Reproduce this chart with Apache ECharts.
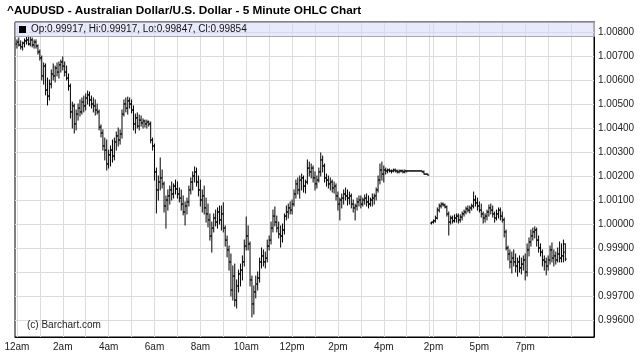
<!DOCTYPE html>
<html>
<head>
<meta charset="utf-8">
<script src="https://cdn.jsdelivr.net/npm/echarts@6/dist/echarts.min.js"></script>
<style>html,body{margin:0;padding:0;background:#fff;}#chart{width:641px;height:357px;}</style>
</head>
<body>
<div id="chart"></div>
<script>
// ---- DATA (5-minute bars; index = bar slot on the time axis) ----
const titleText = '^AUDUSD - Australian Dollar/U.S. Dollar - 5 Minute OHLC Chart';
const legendText = 'Op:0.99917, Hi:0.99917, Lo:0.99847, Cl:0.99854';
const lastClose = 0.99854;
const barSlots = 304;
const tickIndex = [1, 25, 49, 73, 97, 121, 145, 169, 193, 219, 243, 267];
const tickLabels = ['12am', '2am', '4am', '6am', '8am', '10am', '12pm', '2pm', '4pm', '2pm', '5pm', '7pm'];
const yTicks = [0.996, 0.997, 0.998, 0.999, 1.000, 1.001, 1.002, 1.003, 1.004, 1.005, 1.006, 1.007, 1.008];

const opens = [null,
1.0075,1.00758,1.00746,1.00738,1.00754,1.00763,1.00767,1.0075,1.00767,1.00746,
1.00758,1.00742,1.00717,1.00692,1.00617,1.00658,1.00558,1.00533,1.00583,1.00625,
1.00617,1.0065,1.00633,1.00663,1.00675,1.00658,1.00633,1.00608,1.00575,1.00467,
1.00492,1.00417,1.00458,1.00483,1.00467,1.00508,1.00492,1.00525,1.00538,1.00517,
1.005,1.00492,1.00475,1.00467,1.00404,1.00379,1.00325,1.00308,1.0025,1.00288,
1.00308,1.00283,1.00342,1.00367,1.0035,1.00375,1.00458,1.005,1.00483,1.00513,
1.005,1.00475,1.00417,1.00442,1.00408,1.00433,1.00421,1.00429,1.00417,1.00425,
1.00417,1.0035,1.00325,1.00217,1.00142,1.00175,1.00192,1.00167,1.00075,1.001,
1.00117,1.00142,1.00125,1.00158,1.00146,1.00125,1.00108,1.00083,1.0005,1.00075,
1.00092,1.00142,1.00175,1.002,1.00217,1.00175,1.00142,1.001,1.00117,1.00067,
1.00042,1.00017,0.9995,0.99983,1.00025,1.00008,1.0005,1.00017,1.00042,0.99983,
0.99933,0.99892,0.99842,0.99725,0.99783,0.99683,0.99742,0.99792,0.99808,0.99842,
0.99908,0.9995,0.99917,0.99767,0.99667,0.99717,0.9975,0.99775,0.99842,0.99867,
0.99842,0.99858,0.99908,0.99933,0.99983,1.00033,1.00008,0.99983,0.99958,0.9995,
0.99975,1.00033,1.0005,1.00067,1.00058,1.00083,1.00125,1.00167,1.00142,1.00183,
1.00192,1.00158,1.00175,1.00233,1.00217,1.00233,1.00192,1.00167,1.00183,1.00217,
1.00267,1.00242,1.00192,1.00183,1.00167,1.00175,1.0015,1.00158,1.00117,1.00083,
1.001,1.00108,1.00125,1.00117,1.00108,1.00117,1.00083,1.00067,1.00075,1.00092,
1.001,1.00083,1.001,1.00108,1.00092,1.00083,1.001,1.00108,1.00117,1.00142,
1.00183,1.00225,1.00208,1.00225,1.00221,1.00225,1.00221,1.00221,1.00225,1.00221,
1.00217,1.00221,1.00221,1.00217,1.00221,1.00221,1.00221,1.00221,1.00221,1.00221,
1.00221,1.00221,1.00221,1.00217,1.00208,1.00208,null,
1.00004,1.00008,1.00013,
1.00025,1.00058,1.00075,1.00083,1.00079,1.00071,1.00042,1.00008,1.00025,1.00013,
1.00025,1.00033,1.00017,1.00029,1.00042,1.0005,1.00063,1.00058,1.00067,1.00075,
1.001,1.00088,1.00075,1.00058,1.00042,1.00025,1.00033,1.0005,1.00067,1.00058,
1.00042,1.00025,1.00042,1.00058,1.00033,1.00017,0.99967,0.999,0.99875,0.99842,
0.99858,0.99842,0.99825,0.99842,0.99817,0.99833,0.9985,0.998,0.99892,0.99925,
0.9995,0.99967,0.99975,0.99933,0.999,0.99883,0.9985,0.99842,0.99825,0.9985,
0.99892,0.99858,0.99867,0.9985,0.99875,0.99858,0.99867,0.99917];

const highs = [null,
1.00767,1.00775,1.00763,1.00758,1.00771,1.00779,1.00783,1.00779,1.00775,1.00767,
1.00767,1.00746,1.00725,1.007,1.00671,1.00667,1.00608,1.006,1.00642,1.00667,
1.00658,1.00671,1.00675,1.00683,1.00696,1.00675,1.00658,1.00625,1.00583,1.00508,
1.005,1.00475,1.005,1.00517,1.00525,1.00533,1.00542,1.00554,1.0055,1.00533,
1.00525,1.00517,1.005,1.00475,1.00413,1.00392,1.00358,1.0035,1.00308,1.00325,
1.0035,1.00358,1.00383,1.004,1.00392,1.00475,1.00517,1.00525,1.00529,1.00525,
1.00517,1.00492,1.00458,1.00463,1.00454,1.0045,1.00438,1.00433,1.00433,1.00429,
1.00425,1.00358,1.00333,1.00233,1.002,1.00275,1.00225,1.00175,1.00117,1.00142,
1.00158,1.00175,1.00167,1.00183,1.00175,1.0015,1.00142,1.00117,1.00092,1.00108,
1.00158,1.00192,1.00217,1.00238,1.00233,1.002,1.00183,1.00142,1.00158,1.00108,
1.00083,1.00042,1.00008,1.00042,1.00058,1.00067,1.00075,1.00075,1.00088,0.99992,
0.9995,0.99908,0.99875,0.99825,0.99833,0.99767,0.99808,0.99833,0.99867,0.99933,
1.00029,0.99992,0.99925,0.99783,0.99742,0.99783,0.998,0.99858,0.999,0.99892,
0.99883,0.99933,0.9995,1.00008,1.00058,1.00071,1.00033,1.00008,0.99992,1.0,
1.00042,1.00075,1.00083,1.00092,1.001,1.00142,1.00183,1.00192,1.002,1.00208,
1.002,1.00183,1.00267,1.00258,1.0025,1.00242,1.00217,1.002,1.00233,1.00296,
1.00283,1.0025,1.00208,1.002,1.00192,1.00183,1.00175,1.00167,1.00133,1.00108,
1.00125,1.00142,1.0015,1.00142,1.00133,1.00125,1.001,1.00083,1.00108,1.00117,
1.00117,1.00108,1.00121,1.00125,1.00117,1.00108,1.00125,1.00125,1.0015,1.002,
1.0025,1.00258,1.00242,1.00233,1.00229,1.00229,1.00225,1.00229,1.00229,1.00225,
1.00225,1.00225,1.00225,1.00225,1.00221,1.00221,1.00221,1.00221,1.00221,1.00221,
1.00221,1.00221,1.00221,1.00221,1.00208,1.00208,null,
1.00008,1.00017,1.00033,
1.00067,1.00083,1.00088,1.00088,1.00083,1.00075,1.0005,1.00033,1.00033,1.00038,
1.00042,1.00042,1.00038,1.0005,1.00058,1.00071,1.00075,1.00075,1.00083,1.00133,
1.00117,1.00108,1.00092,1.00083,1.0005,1.00042,1.00058,1.00079,1.00083,1.00075,
1.0005,1.00058,1.00067,1.00067,1.0005,1.00025,0.99975,0.99908,0.99892,0.99883,
0.99892,0.99875,0.99858,0.99867,0.99858,0.99867,0.99875,0.99917,0.99942,0.99975,
0.99983,0.99988,0.99983,0.9995,0.99917,0.99892,0.99867,0.99858,0.99867,0.99908,
0.99921,0.99892,0.99883,0.999,0.99925,0.99917,0.99933,0.99917];

const lows = [null,
1.00733,1.00742,1.00729,1.00725,1.00738,1.0075,1.00746,1.00742,1.00738,1.00733,
1.00733,1.00708,1.00683,1.006,1.00583,1.00538,1.00496,1.00517,1.00567,1.006,
1.00592,1.00617,1.00608,1.00633,1.00642,1.00617,1.006,1.00558,1.00442,1.004,
1.00379,1.00392,1.00433,1.0045,1.00458,1.00467,1.00475,1.005,1.00492,1.00483,
1.00467,1.00454,1.00458,1.00392,1.00363,1.00308,1.00267,1.00225,1.00233,1.00242,
1.00258,1.00267,1.00308,1.00325,1.00333,1.00358,1.0045,1.00467,1.00458,1.00483,
1.00463,1.00392,1.00379,1.004,1.00392,1.00408,1.004,1.00404,1.004,1.00408,
1.00338,1.00308,1.00183,1.00046,1.001,1.00142,1.0015,1.0005,0.99983,1.00058,
1.00083,1.001,1.00108,1.00125,1.00108,1.00092,1.00058,1.00038,0.99996,1.00042,
1.00075,1.00125,1.00142,1.00175,1.00158,1.00117,1.00075,1.0005,1.00042,1.00008,
0.99988,0.99933,0.99883,0.99967,0.99992,0.99983,1.0,0.99975,0.99967,0.99908,
0.99863,0.99808,0.997,0.99683,0.99658,0.9965,0.99717,0.99742,0.99767,0.99825,
0.99892,0.99892,0.99742,0.99613,0.99625,0.99692,0.99725,0.99758,0.99817,0.99825,
0.99817,0.99842,0.99892,0.99917,0.99967,0.99992,0.99967,0.99942,0.99904,0.99925,
0.99958,1.00017,1.00025,1.00042,1.00042,1.00075,1.00108,1.00125,1.00108,1.00142,
1.00133,1.00129,1.00167,1.002,1.00192,1.00175,1.00142,1.0015,1.00175,1.002,
1.00217,1.00175,1.00158,1.0015,1.00142,1.00133,1.00129,1.001,1.00058,1.00017,
1.00067,1.00083,1.001,1.00079,1.00083,1.00067,1.0005,1.00017,1.00058,1.00075,
1.00067,1.00075,1.00083,1.00075,1.00067,1.00075,1.00075,1.00083,1.001,1.00133,
1.00167,1.00183,1.00175,1.00208,1.00213,1.00217,1.00213,1.00217,1.00217,1.00213,
1.00213,1.00217,1.00213,1.00213,1.00217,1.00221,1.00221,1.00221,1.00221,1.00221,
1.00221,1.00221,1.00217,1.00208,1.00208,1.00204,null,
1.0,1.00004,1.00008,
1.00021,1.0005,1.00067,1.00075,1.00067,1.00033,0.99954,1.0,1.00004,1.00008,
1.00008,1.00004,1.00008,1.00017,1.00033,1.00042,1.0005,1.00046,1.00058,1.00067,
1.00075,1.00058,1.0005,1.00029,1.00004,1.00008,1.00017,1.00033,1.00042,1.00029,
1.00008,1.00017,1.00025,1.00017,1.00008,0.99946,0.99892,0.9985,0.99817,0.99796,
0.99825,0.998,0.99783,0.998,0.99792,0.99808,0.99767,0.99783,0.99867,0.99908,
0.99933,0.99942,0.99908,0.99883,0.99867,0.99825,0.99808,0.99788,0.99808,0.99833,
0.99842,0.99825,0.99833,0.99842,0.99842,0.99842,0.99842,0.99847];

const closes = [null,
1.00758,1.00746,1.00738,1.00754,1.00763,1.00767,1.0075,1.00767,1.00746,1.00758,
1.00742,1.00717,1.00692,1.00617,1.00658,1.00558,1.00533,1.00583,1.00625,1.00617,
1.0065,1.00633,1.00663,1.00675,1.00658,1.00633,1.00608,1.00575,1.00467,1.00492,
1.00417,1.00458,1.00483,1.00467,1.00508,1.00492,1.00525,1.00538,1.00517,1.005,
1.00492,1.00475,1.00467,1.00404,1.00379,1.00325,1.00308,1.0025,1.00288,1.00308,
1.00283,1.00342,1.00367,1.0035,1.00375,1.00458,1.005,1.00483,1.00513,1.005,
1.00475,1.00417,1.00442,1.00408,1.00433,1.00421,1.00429,1.00417,1.00425,1.00417,
1.0035,1.00325,1.00217,1.00142,1.00175,1.00192,1.00167,1.00075,1.001,1.00117,
1.00142,1.00125,1.00158,1.00146,1.00125,1.00108,1.00083,1.0005,1.00075,1.00092,
1.00142,1.00175,1.002,1.00217,1.00175,1.00142,1.001,1.00117,1.00067,1.00042,
1.00017,0.9995,0.99983,1.00025,1.00008,1.0005,1.00017,1.00042,0.99983,0.99933,
0.99892,0.99842,0.99725,0.99783,0.99683,0.99742,0.99792,0.99808,0.99842,0.99908,
0.9995,0.99917,0.99767,0.99667,0.99717,0.9975,0.99775,0.99842,0.99867,0.99842,
0.99858,0.99908,0.99933,0.99983,1.00033,1.00008,0.99983,0.99958,0.9995,0.99975,
1.00033,1.0005,1.00067,1.00058,1.00083,1.00125,1.00167,1.00142,1.00183,1.00192,
1.00158,1.00175,1.00233,1.00217,1.00233,1.00192,1.00167,1.00183,1.00217,1.00267,
1.00242,1.00192,1.00183,1.00167,1.00175,1.0015,1.00158,1.00117,1.00083,1.001,
1.00108,1.00125,1.00117,1.00108,1.00117,1.00083,1.00067,1.00075,1.00092,1.001,
1.00083,1.001,1.00108,1.00092,1.00083,1.001,1.00108,1.00117,1.00142,1.00183,
1.00225,1.00208,1.00225,1.00221,1.00225,1.00221,1.00221,1.00225,1.00221,1.00217,
1.00221,1.00221,1.00217,1.00221,1.00221,1.00221,1.00221,1.00221,1.00221,1.00221,
1.00221,1.00221,1.00217,1.00208,1.00208,1.00204,null,
1.00008,1.00013,1.00025,
1.00058,1.00075,1.00083,1.00079,1.00071,1.00042,1.00008,1.00025,1.00013,1.00025,
1.00033,1.00017,1.00029,1.00042,1.0005,1.00063,1.00058,1.00067,1.00075,1.001,
1.00088,1.00075,1.00058,1.00042,1.00025,1.00033,1.0005,1.00067,1.00058,1.00042,
1.00025,1.00042,1.00058,1.00033,1.00017,0.99967,0.999,0.99875,0.99842,0.99858,
0.99842,0.99825,0.99842,0.99817,0.99833,0.9985,0.998,0.99892,0.99925,0.9995,
0.99967,0.99975,0.99933,0.999,0.99883,0.9985,0.99842,0.99825,0.9985,0.99892,
0.99858,0.99867,0.9985,0.99875,0.99858,0.99867,0.99883,0.99854];

// ---- BUILD ----
const FONT = 'Liberation Sans, Arial, sans-serif';
const slots = Array.from({length: barSlots}, (_, i) => String(i));
const ohlc = [];
for (let i = 0; i < opens.length; i++) {
  if (opens[i] == null) continue;
  ohlc.push([i, opens[i], highs[i], lows[i], closes[i]]);
}
function isHourLine(i) {
  if (i <= 217) return (i - 1) % 12 === 0;
  return i >= 219 && (i - 219) % 12 === 0;
}
const lensOk = opens.length === highs.length && highs.length === lows.length && lows.length === closes.length;

const chart = echarts.init(document.getElementById('chart'), null, {renderer: 'canvas'});
chart.setOption({
  animation: false,
  backgroundColor: '#fff',
  title: {
    text: lensOk ? titleText : 'LENGTH MISMATCH ' + [opens.length, highs.length, lows.length, closes.length].join(','),
    left: 7, top: 5, padding: 0,
    textStyle: {fontFamily: FONT, fontSize: 11.8, fontWeight: 'bold', color: '#000'}
  },
  grid: {left: 15, right: 47, top: 22, bottom: 20, show: true, borderColor: '#000', borderWidth: 1, backgroundColor: 'transparent'},
  xAxis: {
    type: 'category', data: slots, boundaryGap: false,
    axisLine: {show: true, lineStyle: {color: '#000', width: 1}},
    axisTick: {show: false},
    axisLabel: {
      interval: (idx) => tickIndex.indexOf(idx) >= 0,
      formatter: (val, idx) => tickLabels[tickIndex.indexOf(Number(val))] || '',
      fontFamily: FONT, fontSize: 10, color: '#222', margin: 5
    },
    splitLine: {show: true, interval: (idx) => isHourLine(idx), lineStyle: {color: '#dcdcdc', width: 1}}
  },
  yAxis: {
    type: 'value', position: 'right', min: 0.995292, max: 1.008417, scale: true,
    axisLine: {show: true, lineStyle: {color: '#000', width: 1}},
    axisTick: {show: true, inside: true, length: 4, customValues: yTicks, lineStyle: {color: '#000'}},
    axisLabel: {customValues: yTicks, formatter: (v) => v.toFixed(5), fontFamily: FONT, fontSize: 10, color: '#222', margin: 4},
    splitLine: {show: false}
  },
  graphic: [
    {type: 'rect', z: 100, shape: {x: 15.5, y: 22.5, width: 579, height: 14},
     style: {fill: 'rgba(215,215,250,0.55)', stroke: '#a8a8b8', lineWidth: 1}},
    {type: 'rect', z: 101, shape: {x: 19, y: 26, width: 7, height: 7}, style: {fill: '#000'}},
    {type: 'text', z: 101, left: 31, top: 24, style: {text: legendText, fontFamily: FONT, fontSize: 10, fill: '#111'}},
    {type: 'text', z: 101, left: 27, top: 320, style: {text: '(c) Barchart.com', fontFamily: FONT, fontSize: 10, fill: '#222'}}
  ],
  series: [
    {
      type: 'custom', z: 1, silent: true, clip: true,
      data: yTicks.map(v => [0, v]),
      encode: {x: 0, y: 1},
      renderItem: function (params, api) {
        const p = api.coord([0, api.value(1)]);
        const cs = params.coordSys;
        const y = Math.round(p[1]) + 0.5;
        return {type: 'line', shape: {x1: cs.x, y1: y, x2: cs.x + cs.width, y2: y},
                style: {stroke: '#dcdcdc', lineWidth: 1}};
      }
    },
    {
      type: 'custom', z: 3, clip: true,
      data: ohlc,
      encode: {x: 0, y: [1, 2, 3, 4]},
      renderItem: function (params, api) {
        const i = api.value(0);
        const o = api.coord([i, api.value(1)]);
        const h = api.coord([i, api.value(2)]);
        const l = api.coord([i, api.value(3)]);
        const c = api.coord([i, api.value(4)]);
        const x = o[0];
        const st = {stroke: '#000', lineWidth: 1};
        return {type: 'group', children: [
          {type: 'line', shape: {x1: x, y1: h[1] - 0.5, x2: x, y2: l[1] + 0.5}, style: st},
          {type: 'line', shape: {x1: x - 1.5, y1: o[1], x2: x, y2: o[1]}, style: st},
          {type: 'line', shape: {x1: x, y1: c[1], x2: x + 1.5, y2: c[1]}, style: st}
        ]};
      },
      markLine: {
        silent: true, symbol: 'none', animation: false,
        lineStyle: {opacity: 0},
        label: {show: true, position: 'end', distance: 3, formatter: lastClose.toFixed(5),
                backgroundColor: '#000', color: '#fff', fontFamily: FONT, fontSize: 10, padding: [1, 1, 0, 1]},
        data: [{yAxis: lastClose}]
      }
    }
  ]
});
</script>
</body>
</html>
